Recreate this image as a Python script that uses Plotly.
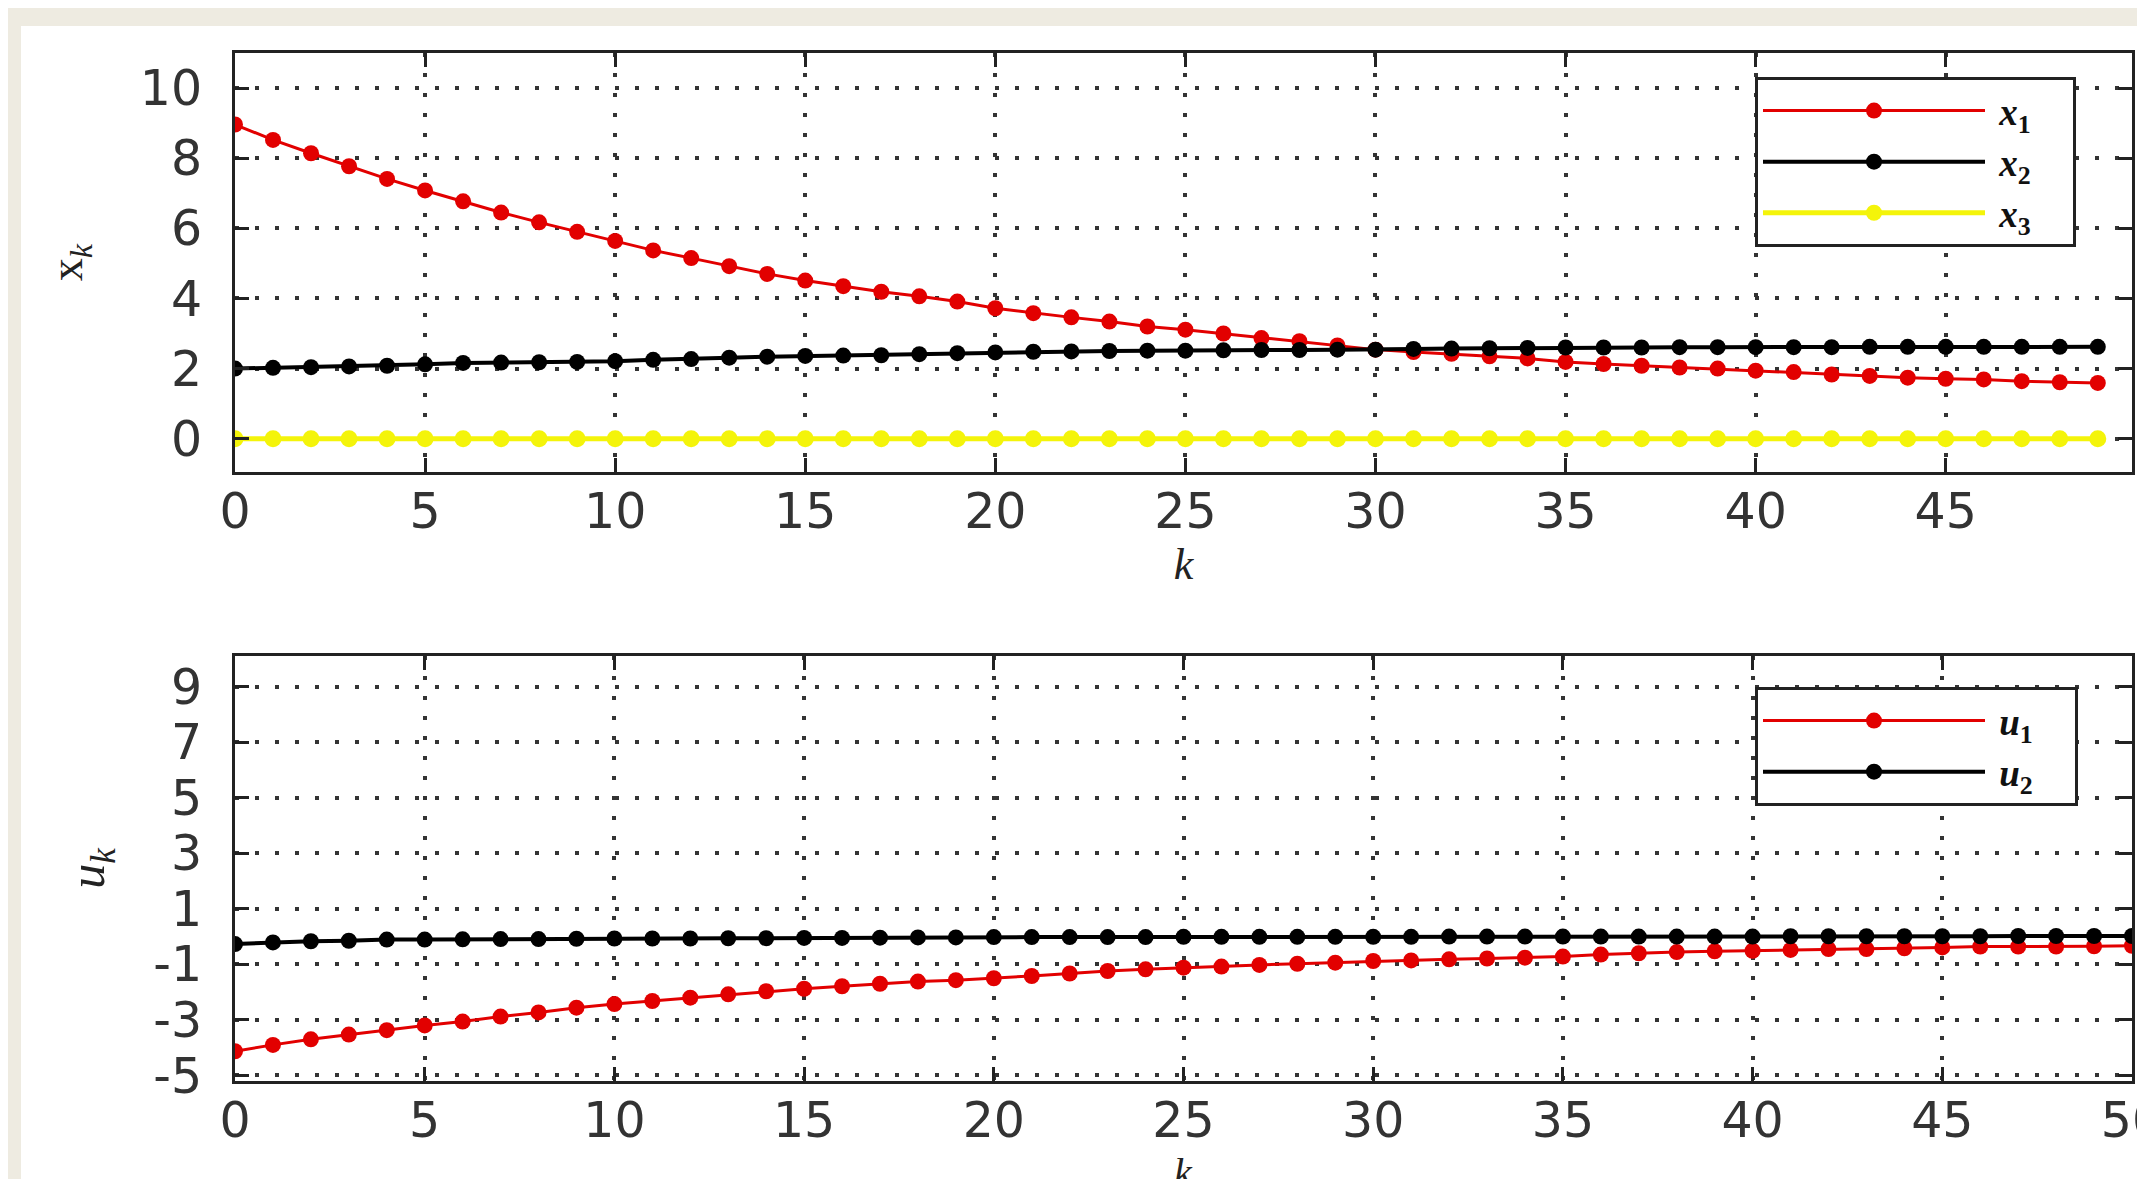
import plotly.graph_objects as go

# ---------------- data ----------------
k_top = list(range(0, 50))
x1 = [8.96, 8.52, 8.14, 7.77, 7.41, 7.08, 6.77, 6.45, 6.17, 5.90,
      5.64, 5.37, 5.15, 4.92, 4.70, 4.51, 4.35, 4.19, 4.06, 3.91,
      3.72, 3.58, 3.46, 3.34, 3.20, 3.11, 3.00, 2.87, 2.78, 2.66,
      2.54, 2.47, 2.42, 2.35, 2.29, 2.19, 2.13, 2.08, 2.03, 2.00,
      1.94, 1.90, 1.83, 1.79, 1.74, 1.71, 1.69, 1.64, 1.61, 1.59]
x2 = [2.00, 2.02, 2.04, 2.06, 2.08, 2.12, 2.16, 2.17, 2.18, 2.19,
      2.21, 2.25, 2.27, 2.31, 2.34, 2.36, 2.37, 2.38, 2.41, 2.44,
      2.46, 2.48, 2.49, 2.50, 2.51, 2.51, 2.52, 2.53, 2.53, 2.54,
      2.54, 2.56, 2.57, 2.58, 2.59, 2.60, 2.60, 2.60, 2.61, 2.61,
      2.61, 2.61, 2.61, 2.62, 2.62, 2.62, 2.62, 2.62, 2.62, 2.62]
x3 = [0.0, 0.0, 0.0, 0.0, 0.0, 0.0, 0.0, 0.0, 0.0, 0.0,
      0.0, 0.0, 0.0, 0.0, 0.0, 0.0, 0.0, 0.0, 0.0, 0.0,
      0.0, 0.0, 0.0, 0.0, 0.0, 0.0, 0.0, 0.0, 0.0, 0.0,
      0.0, 0.0, 0.0, 0.0, 0.0, 0.0, 0.0, 0.0, 0.0, 0.0,
      0.0, 0.0, 0.0, 0.0, 0.0, 0.0, 0.0, 0.0, 0.0, 0.0]

k_bot = list(range(0, 51))
u1 = [-4.13, -3.90, -3.70, -3.53, -3.37, -3.20, -3.06, -2.88, -2.73, -2.56,
      -2.43, -2.32, -2.20, -2.08, -1.97, -1.88, -1.79, -1.70, -1.62, -1.57,
      -1.50, -1.42, -1.33, -1.24, -1.18, -1.12, -1.08, -1.02, -0.98, -0.94,
      -0.88, -0.86, -0.82, -0.79, -0.76, -0.72, -0.65, -0.60, -0.56, -0.53,
      -0.51, -0.48, -0.45, -0.45, -0.42, -0.39, -0.36, -0.36, -0.36, -0.35,
      -0.33]
u2 = [-0.27, -0.21, -0.17, -0.15, -0.11, -0.11, -0.10, -0.09, -0.09, -0.08,
      -0.07, -0.07, -0.07, -0.06, -0.06, -0.05, -0.05, -0.04, -0.03, -0.03,
      -0.02, -0.02, -0.02, -0.02, -0.02, -0.01, -0.01, -0.01, -0.01, -0.01,
      -0.01, -0.01, 0.00, 0.00, 0.00, 0.00, 0.00, 0.00, 0.00, 0.00,
      0.00, 0.01, 0.01, 0.01, 0.01, 0.01, 0.01, 0.02, 0.02, 0.02,
      0.02]

x_ticks = [0, 5, 10, 15, 20, 25, 30, 35, 40, 45, 50]
x_ticktext = ["0", "5", "10", "15", "20", "25", "30", "35", "40", "45", "50"]
top_y_ticks = [0, 2, 4, 6, 8, 10]
top_y_ticktext = ["0", "2", "4", "6", "8", "10"]
bot_y_ticks = [-5, -3, -1, 1, 3, 5, 7, 9]
bot_y_ticktext = ["-5", "-3", "-1", "1", "3", "5", "7", "9"]

# ---------------- geometry ----------------
OFF = 8                      # page body margin in the browser
W, H = 2145 - OFF, 1179 - OFF
ML, MR, MT, MB = 227, 13, 45, 98
PW = W - ML - MR
PH = H - MT - MB

def py(ref_pix):   # reference window pixel (from top) -> paper y
    return (H - MB - (ref_pix - OFF)) / PH

def px(ref_pix):   # reference window pixel (from left) -> paper x
    return ((ref_pix - OFF) - ML) / PW

RED = "#e20000"
BLACK = "#000000"
YELLOW = "#f4f40a"
BEIGE = "#EEEBE1"
TICKFONT = dict(family="DejaVu Sans", size=49, color="#333333")
SERIF = "Liberation Serif"

fig = go.Figure()

def lname(var, idx):
    return "&nbsp;<i>%s</i><sub>%s</sub>&nbsp;&nbsp;&nbsp;&nbsp;" % (var, idx)

def add(x, y, name, color, lw, msize, xa, ya, legend):
    fig.add_trace(go.Scatter(
        x=x, y=y, name=name, mode="lines+markers",
        line=dict(color=color, width=lw),
        marker=dict(color=color, size=msize, symbol="circle"),
        xaxis=xa, yaxis=ya, legend=legend,
    ))

add(k_top, x1, lname("x", "1"), RED, 3, 16, "x", "y", "legend")
add(k_top, x2, lname("x", "2"), BLACK, 4, 16, "x", "y", "legend")
add(k_top, x3, lname("x", "3"), YELLOW, 5, 17, "x", "y", "legend")
add(k_bot, u1, lname("u", "1"), RED, 3, 16, "x2", "y2", "legend2")
add(k_bot, u2, lname("u", "2"), BLACK, 4, 16, "x2", "y2", "legend2")

axis_common = dict(
    showline=True, linecolor="#222222", linewidth=3, mirror="ticks",
    ticks="inside", ticklen=14, tickwidth=3, tickcolor="#222222",
    showgrid=True, gridcolor="#333333", gridwidth=4, griddash="4px,16px",
    zeroline=False, tickfont=TICKFONT, automargin=False,
)

top_dom = [py(472), 1.0]
bot_dom = [0.0, py(656)]

legend_common = dict(
    xanchor="left", yanchor="top",
    bgcolor="white", bordercolor="#222222", borderwidth=3,
    font=dict(family=SERIF, size=37, color="#111", weight="bold"),
    itemwidth=222, tracegroupgap=0,
)

fig.update_layout(
    width=W, height=H,
    margin=dict(l=ML, r=MR, t=MT, b=MB, autoexpand=False),
    paper_bgcolor="white", plot_bgcolor="white",
    showlegend=True,
    xaxis=dict(axis_common, domain=[0, 1], anchor="y", range=[0, 49.9],
               tickvals=x_ticks, ticktext=x_ticktext, ticklabelstandoff=-6,
               title=dict(text="<i>k</i>", font=dict(family=SERIF, size=44, color="#222"), standoff=10)),
    yaxis=dict(axis_common, domain=top_dom, anchor="x", range=[-0.95, 11.0],
               tickvals=top_y_ticks, ticktext=top_y_ticktext, ticklabelstandoff=20,
               title=dict(text="x<sub><i>k</i></sub>", font=dict(family=SERIF, size=46, color="#222"), standoff=43)),
    xaxis2=dict(axis_common, domain=[0, 1], anchor="y2", range=[0, 50],
                tickvals=x_ticks, ticktext=x_ticktext, ticklabelstandoff=-6,
                ticklabeloverflow="allow"),
    yaxis2=dict(axis_common, domain=bot_dom, anchor="x2", range=[-5.2, 10.1],
                tickvals=bot_y_ticks, ticktext=bot_y_ticktext, ticklabelstandoff=20,
                title=dict(text="<i>u</i><sub><i>k</i></sub>", font=dict(family=SERIF, size=50, color="#222"), standoff=33)),
    legend=dict(legend_common, x=px(1755), y=py(77)),
    legend2=dict(legend_common, x=px(1755), y=py(687)),
    annotations=[
        dict(text="<i>k</i>", xref="paper", yref="paper",
             x=0.5, y=py(1172), xanchor="center", yanchor="middle",
             showarrow=False, font=dict(family=SERIF, size=40, color="#222")),
    ],
    shapes=[
        dict(type="rect", xref="paper", yref="paper", layer="below",
             x0=px(0), x1=px(21), y0=py(1179 + 20), y1=py(0),
             fillcolor=BEIGE, line=dict(width=0)),
        dict(type="rect", xref="paper", yref="paper", layer="below",
             x0=px(0), x1=px(2145 + 20), y0=py(26), y1=py(0),
             fillcolor=BEIGE, line=dict(width=0)),
    ],
)

fig.write_html("out.html")
